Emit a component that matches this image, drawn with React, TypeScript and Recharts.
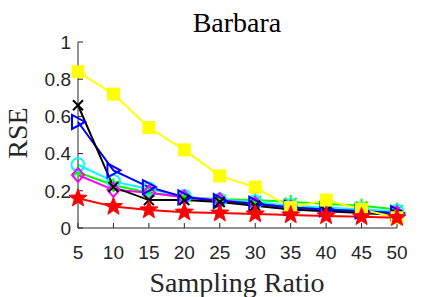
import { LineChart, Line, XAxis, YAxis } from 'recharts';

const ratios = [5, 10, 15, 20, 25, 30, 35, 40, 45, 50];
const yTicks = [0, 0.2, 0.4, 0.6, 0.8, 1];

const yellowVals = [0.84, 0.72, 0.54, 0.42, 0.28, 0.22, 0.11, 0.15, 0.1, 0.055];
const blackVals = [0.66, 0.22, 0.15, 0.15, 0.14, 0.12, 0.1, 0.09, 0.08, 0.07];
const blueVals = [0.57, 0.31, 0.22, 0.165, 0.145, 0.13, 0.11, 0.1, 0.09, 0.08];
const cyanVals = [0.34, 0.25, 0.21, 0.17, 0.15, 0.14, 0.12, 0.11, 0.1, 0.09];
const greenVals = [0.3, 0.23, 0.19, 0.165, 0.155, 0.15, 0.14, 0.13, 0.12, 0.1];
const magentaVals = [0.285, 0.205, 0.19, 0.165, 0.15, 0.13, 0.11, 0.1, 0.09, 0.08];
const redVals = [0.16, 0.115, 0.097, 0.085, 0.08, 0.075, 0.07, 0.065, 0.06, 0.055];

const data = ratios.map((r, i) => ({
  r,
  yellow: yellowVals[i],
  black: blackVals[i],
  blue: blueVals[i],
  cyan: cyanVals[i],
  green: greenVals[i],
  magenta: magentaVals[i],
  red: redVals[i],
}));

const axisColor = '#262626';
const serif = "'Liberation Serif', 'Times New Roman', serif";
const sans = "'Liberation Sans', Arial, sans-serif";

const Square = ({ cx, cy }: any) => (
  <rect x={cx - 6} y={cy - 6} width={12} height={12} fill="#ffff00" stroke="#ffff00" />
);
const Cross = ({ cx, cy }: any) => (
  <path d={`M${cx - 5},${cy - 5}L${cx + 5},${cy + 5}M${cx - 5},${cy + 5}L${cx + 5},${cy - 5}`} stroke="#000" strokeWidth={2} />
);
const Tri = ({ cx, cy }: any) => (
  <path d={`M${cx - 6},${cy - 7}L${cx + 7},${cy}L${cx - 6},${cy + 7}Z`} fill="none" stroke="#0000ff" strokeWidth={2} />
);
const Circ = ({ cx, cy }: any) => (
  <circle cx={cx} cy={cy} r={6.5} fill="none" stroke="#00ffff" strokeWidth={2} />
);
const Star = ({ cx, cy }: any) => (
  <path
    d={`M${cx},${cy - 7}V${cy + 7}M${cx - 6},${cy - 4}L${cx + 6},${cy + 4}M${cx - 6},${cy + 4}L${cx + 6},${cy - 4}`}
    stroke="#00ff00"
    strokeWidth={2}
  />
);
const Diamond = ({ cx, cy }: any) => (
  <path d={`M${cx},${cy - 7}L${cx + 6},${cy}L${cx},${cy + 7}L${cx - 6},${cy}Z`} fill="none" stroke="#ff00ff" strokeWidth={2} />
);
const Penta = ({ cx, cy }: any) => {
  const pts: string[] = [];
  for (let k = 0; k < 10; k++) {
    const rad = k % 2 === 0 ? 9.5 : 4;
    const a = -Math.PI / 2 + (k * Math.PI) / 5;
    pts.push(`${cx + rad * Math.cos(a)},${cy + rad * Math.sin(a)}`);
  }
  return <polygon points={pts.join(' ')} fill="#ff0000" stroke="#ff0000" />;
};

const emptyTick = () => <g />;

export default function App() {
  return (
    <div style={{ position: 'absolute', left: 0, top: 0, width: 438, height: 297, background: '#fff' }}>
      <LineChart width={438} height={297} data={data} margin={{ top: 42, right: 41, bottom: 0, left: 8 }}>
        <XAxis
          dataKey="r"
          type="number"
          domain={[5, 50]}
          ticks={ratios}
          height={69}
          tickSize={-5}
          tickMargin={23}
          stroke={axisColor}
          tick={{ fill: axisColor, fontSize: 19, fontFamily: sans }}
        />
        <XAxis
          xAxisId="top"
          orientation="top"
          dataKey="r"
          type="number"
          domain={[5, 50]}
          ticks={ratios}
          height={0}
          tickSize={-5}
          stroke={axisColor}
          tick={emptyTick}
        />
        <YAxis
          domain={[0, 1]}
          ticks={yTicks}
          width={70}
          tickSize={-5}
          tickMargin={12}
          stroke={axisColor}
          tick={{ fill: axisColor, fontSize: 19, fontFamily: sans }}
        />
        <YAxis
          yAxisId="right"
          orientation="right"
          domain={[0, 1]}
          ticks={yTicks}
          width={0}
          tickSize={-5}
          stroke={axisColor}
          tick={emptyTick}
        />
        <Line dataKey="green" stroke="#00ff00" strokeWidth={2} dot={<Star />} isAnimationActive={false} />
        <Line dataKey="cyan" stroke="#00ffff" strokeWidth={2} dot={<Circ />} isAnimationActive={false} />
        <Line dataKey="magenta" stroke="#ff00ff" strokeWidth={2} dot={<Diamond />} isAnimationActive={false} />
        <Line dataKey="blue" stroke="#0000ff" strokeWidth={2} dot={<Tri />} isAnimationActive={false} />
        <Line dataKey="black" stroke="#000000" strokeWidth={2} dot={<Cross />} isAnimationActive={false} />
        <Line dataKey="yellow" stroke="#ffff00" strokeWidth={2} dot={<Square />} isAnimationActive={false} />
        <Line dataKey="red" stroke="#ff0000" strokeWidth={2} dot={<Penta />} isAnimationActive={false} />
      </LineChart>
      <svg width={438} height={297} style={{ position: 'absolute', left: 0, top: 0, pointerEvents: 'none' }}>
        <text x={237} y={32} textAnchor="middle" fontSize={28} fontFamily={serif} fill="#000">
          Barbara
        </text>
        <text
          x={27}
          y={133}
          textAnchor="middle"
          fontSize={28}
          fontFamily={serif}
          fill={axisColor}
          transform="rotate(-90 27 133)"
        >
          RSE
        </text>
        <text x={237} y={292} textAnchor="middle" fontSize={28} fontFamily={serif} fill={axisColor}>
          Sampling Ratio
        </text>
      </svg>
    </div>
  );
}
